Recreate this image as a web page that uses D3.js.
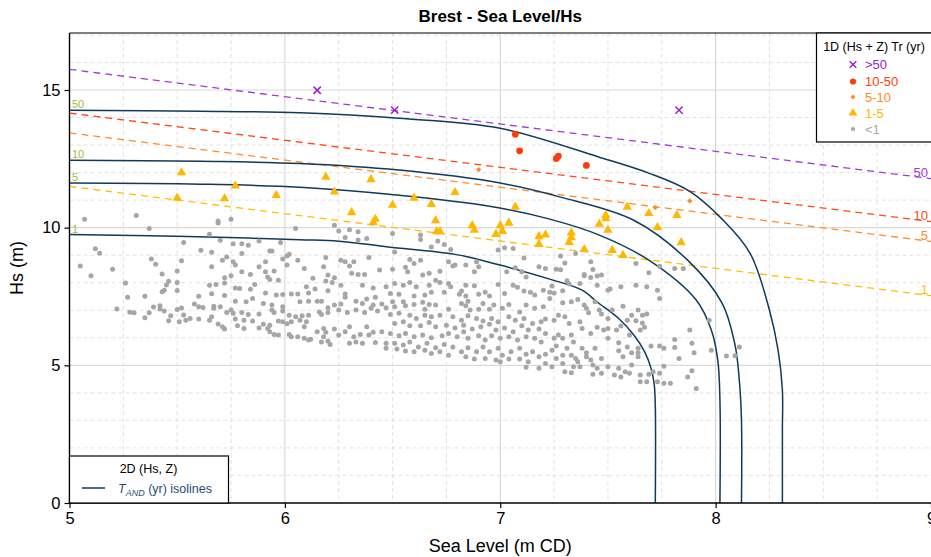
<!DOCTYPE html>
<html>
<head>
<meta charset="utf-8">
<script src="https://cdn.jsdelivr.net/npm/d3@7"></script>
<style>
  body { margin: 0; background: #fff; }
  svg { display: block; font-family: "Liberation Sans", Arial, sans-serif; }
</style>
</head>
<body>
<svg id="chart" width="931" height="557"></svg>
<script>
// ---- axes ----
const xTicks = [5, 6, 7, 8, 9];
const yTicks = [0, 5, 10, 15];
const xMinor = d3.range(5, 9.001, 0.25);
const yMinor = d3.range(0, 17.5, 1);

// ---- 2D joint return period isolines, T_AND (yr): [sea level, Hs] ----
const isoPeriods = ["1", "5", "10", "50"];
const iso1 = [[5.00,9.75],[5.37,9.71],[5.74,9.64],[6.07,9.56],[6.25,9.51],[6.48,9.30],[6.79,9.03],[6.99,8.66],[7.23,8.13],[7.38,7.73],[7.45,7.30],[7.55,6.70],[7.62,6.10],[7.67,5.50],[7.70,4.90],[7.715,4.30],[7.72,3.50],[7.72,0]];
const iso5 = [[5.00,11.62],[5.61,11.58],[6.07,11.47],[6.53,11.18],[6.95,10.78],[7.23,10.31],[7.46,9.73],[7.69,8.82],[7.91,7.37],[7.98,6.28],[8.01,5.19],[8.02,3.74],[8.02,0]];
const iso10 = [[5.00,12.45],[5.61,12.41],[6.07,12.33],[6.53,12.09],[7.00,11.62],[7.28,11.11],[7.62,10.27],[7.87,8.82],[8.03,7.26],[8.09,5.74],[8.11,4.46],[8.12,3.01],[8.12,0]];
const iso50 = [[5.00,14.26],[5.61,14.23],[6.07,14.17],[6.53,13.97],[7.00,13.61],[7.46,12.56],[7.69,11.98],[7.88,11.32],[8.03,10.31],[8.16,9.07],[8.25,7.00],[8.29,5.55],[8.31,4.10],[8.31,2.65],[8.31,0]];
const isolines = [iso1, iso5, iso10, iso50];

// ---- 1D (Hs + Z) return levels: [sea level, Hs] at both ends ----
const levelPeriods = ["50", "10", "5", "1"];
const level50 = [[5, 15.75], [9, 11.78]];
const level10 = [[5, 14.16], [9, 10.22]];
const level5  = [[5, 13.44], [9, 9.50]];
const level1  = [[5, 11.50], [9, 7.53]];
const levels = [level50, level10, level5, level1];
const levelColors = ["#a23ad6", "#ff4a12", "#ff8c26", "#ffbf00"];

// ---- observed events by 1D return period ----
const over50 = [[6.15,14.99],[6.51,14.27],[7.83,14.27]];
const tr10to50 = [[7.07,13.39],[7.09,12.79],[7.26,12.51],[7.27,12.60],[7.40,12.26]];
const tr5to10 = [[6.90,12.11],[7.72,10.73],[7.88,10.97]];
const tr1to5 = [[5.52,12.00],[5.50,11.08],[5.72,11.06],[5.77,11.52],[5.96,11.18],[6.19,11.84],[6.23,11.30],[6.31,10.55],[6.40,11.75],[6.41,10.19],[6.42,10.31],[6.50,10.82],[6.60,11.08],[6.68,10.85],[6.70,10.26],[6.705,9.86],[6.72,9.86],[6.79,11.28],[6.87,10.08],[6.88,9.91],[6.98,9.76],[7.00,10.08],[7.01,9.87],[7.04,10.17],[7.07,10.75],[7.18,9.68],[7.21,9.74],[7.18,9.40],[7.33,9.81],[7.33,9.64],[7.32,9.47],[7.39,9.21],[7.46,10.13],[7.49,10.33],[7.49,10.45],[7.50,9.91],[7.52,9.18],[7.57,9.00],[7.59,10.75],[7.69,10.52],[7.73,10.01],[7.82,10.45],[7.84,9.46]];
const under1 = [
[5.07,10.31],[5.31,10.44],[5.37,9.97],[5.69,10.24],[5.69,10.17],[5.65,9.76],[5.70,9.54],[5.53,9.46],[5.12,9.23],[5.14,9.07],[5.61,9.18],[5.66,9.11],[5.38,8.86],[5.40,8.67],[5.52,8.80],[5.71,8.82],[5.73,8.93],[5.05,8.61],[5.20,8.49],[5.66,8.58],[5.10,8.25],[5.43,8.32],[5.50,8.43],[5.72,8.18],[5.26,7.99],[5.46,8.05],[5.45,7.92],[5.50,8.01],[5.68,7.94],[5.65,7.91],[5.72,7.99],[5.44,7.73],[5.43,7.67],[5.50,7.72],[5.66,7.60],[5.27,7.47],[5.35,7.51],[5.60,7.51],[5.72,7.54],[5.22,7.05],[5.39,7.12],[5.42,7.16],[5.42,7.05],[5.58,7.23],[5.60,7.13],[5.62,7.10],[5.67,7.15],[5.70,7.13],[5.67,7.07],[5.50,7.03],[5.52,7.08],[5.28,6.93],[5.30,6.91],[5.37,6.91],[5.44,6.97],[5.73,6.92],[5.47,6.80],[5.53,6.83],[5.35,6.73],[5.46,6.62],[5.51,6.58],[5.54,6.64],[5.56,6.70],[5.60,6.68],[5.65,6.64],[5.66,6.76],[5.69,6.50],[5.71,6.40],[5.72,6.32],
[5.75,10.31],[6.05,9.97],[6.23,10.09],[6.25,9.88],[6.30,9.92],[6.34,9.85],[6.28,9.64],[6.34,9.55],[6.38,9.61],[5.76,9.42],[5.80,9.42],[5.83,9.36],[5.88,9.52],[5.98,9.46],[6.39,8.92],[5.80,9.06],[5.93,9.15],[5.94,9.15],[6.02,9.03],[6.01,8.97],[5.99,8.86],[6.06,8.82],[6.01,8.64],[6.19,8.92],[6.26,8.82],[6.28,8.76],[6.32,8.76],[6.30,8.61],[5.76,8.76],[5.77,8.64],[5.75,8.25],[5.88,8.58],[5.91,8.76],[5.95,8.43],[5.91,8.40],[5.80,8.40],[5.84,8.30],[6.09,8.52],[6.18,8.58],[6.20,8.28],[6.23,8.18],[6.31,8.34],[6.34,8.30],[6.37,8.30],[6.44,8.46],[5.92,8.21],[5.93,8.12],[5.97,8.09],[6.13,8.16],[6.19,8.06],[6.22,8.01],[6.26,7.91],[5.79,7.79],[5.86,7.94],[5.84,7.76],[5.77,7.81],[6.10,7.85],[6.14,7.77],[6.20,7.71],[6.36,7.91],[6.41,7.81],[6.47,7.85],[5.91,7.63],[5.96,7.55],[5.99,7.57],[6.03,7.59],[6.06,7.59],[6.11,7.63],[6.28,7.59],[6.28,7.47],[6.33,7.33],[6.38,7.41],[6.42,7.47],[5.77,7.33],[5.82,7.31],[5.85,7.43],[5.90,7.25],[5.94,7.19],[5.99,7.13],[6.07,7.31],[6.11,7.33],[6.15,7.33],[6.17,7.33],[6.20,7.09],[6.23,7.19],[6.26,7.23],[6.36,7.25],[6.41,7.19],[6.45,7.23],[5.75,7.01],[5.76,6.89],[5.80,6.92],[5.83,6.85],[5.88,6.86],[5.94,7.01],[5.95,6.92],[5.99,6.97],[6.02,6.82],[6.05,6.76],[6.08,6.80],[6.11,6.82],[6.16,6.94],[6.17,6.85],[6.20,6.92],[6.25,7.01],[6.29,6.92],[6.33,7.01],[6.37,6.92],[6.40,7.07],[6.43,6.97],[6.47,7.09],[5.77,6.68],[5.81,6.64],[5.85,6.61],[5.90,6.49],[5.93,6.46],[5.97,6.61],[5.99,6.58],[6.01,6.51],[6.03,6.58],[6.07,6.64],[6.10,6.58],[6.09,6.40],[5.78,6.44],[5.81,6.34],[5.88,6.36],[5.92,6.34],[5.93,6.22],[5.95,6.12],[5.97,6.10],[6.02,6.12],[6.03,6.04],[6.06,6.04],[6.09,5.98],[6.12,5.95],[6.15,6.22],[6.18,6.34],[6.19,6.20],[6.18,6.04],[6.20,5.88],[6.23,6.32],[6.25,6.10],[6.28,6.22],[6.30,6.40],[6.32,6.04],[6.33,5.85],[6.35,6.12],[6.38,6.40],[6.39,6.10],[6.41,6.20],[6.42,5.83],[6.45,6.22],[6.47,5.80],[6.47,5.62],[6.36,5.80],[6.30,5.80],[6.21,5.76],[6.17,5.85],[6.11,5.92],
[6.50,9.79],[6.63,9.73],[6.63,9.57],[6.68,9.30],[6.71,9.52],[6.74,9.39],[6.77,9.21],[6.99,9.19],[7.02,9.27],[7.06,9.24],[7.11,8.90],[7.18,8.58],[6.51,9.12],[6.58,8.84],[6.60,8.70],[6.63,8.82],[6.56,8.56],[6.50,8.49],[6.57,8.40],[6.64,8.28],[6.67,8.34],[6.72,8.42],[6.76,8.76],[6.78,8.61],[6.79,8.64],[6.84,8.64],[6.89,8.76],[6.88,8.40],[6.90,8.58],[7.03,8.40],[7.07,8.54],[7.10,8.40],[7.12,8.21],[7.21,8.52],[6.51,7.97],[6.55,7.91],[6.58,8.01],[6.61,7.85],[6.67,7.91],[6.70,8.09],[6.72,8.01],[6.76,7.97],[6.77,7.85],[6.84,7.91],[6.88,7.89],[6.99,7.94],[7.06,7.91],[7.08,7.84],[7.20,7.73],[7.23,7.65],[6.49,7.61],[6.53,7.58],[6.55,7.31],[6.60,7.52],[6.65,7.55],[6.68,7.65],[6.74,7.65],[6.81,7.58],[6.82,7.70],[6.84,7.52],[6.90,7.58],[6.93,7.65],[6.95,7.52],[7.02,7.61],[7.11,7.70],[7.14,7.65],[7.16,7.55],[6.50,7.31],[6.51,7.13],[6.56,7.16],[6.60,7.21],[6.64,7.29],[6.67,7.21],[6.65,7.04],[6.70,7.19],[6.76,7.04],[6.82,7.25],[6.84,7.16],[6.85,7.33],[6.86,7.01],[6.90,7.04],[6.92,7.25],[6.95,7.04],[6.97,7.19],[7.01,7.07],[7.04,7.21],[7.09,6.94],[7.12,7.19],[7.16,7.07],[7.20,7.13],[6.49,6.85],[6.53,6.89],[6.58,6.82],[6.61,6.70],[6.65,6.82],[6.68,6.76],[6.72,6.82],[6.78,6.76],[6.82,6.64],[6.85,6.80],[6.89,6.70],[6.92,6.61],[6.96,6.70],[6.99,6.58],[7.04,6.76],[7.07,6.64],[7.11,6.70],[7.15,6.52],[7.19,6.58],[7.21,6.68],[6.51,6.52],[6.55,6.58],[6.58,6.44],[6.63,6.44],[6.67,6.56],[6.70,6.40],[6.75,6.46],[6.79,6.36],[6.83,6.46],[6.87,6.32],[6.91,6.40],[6.95,6.49],[6.98,6.28],[7.02,6.36],[7.06,6.22],[7.10,6.44],[7.13,6.28],[7.18,6.32],[7.21,6.16],[6.49,6.16],[6.53,6.07],[6.56,6.16],[6.60,6.04],[6.64,6.10],[6.68,6.00],[6.73,6.07],[6.76,6.16],[6.80,6.04],[6.83,6.22],[6.85,5.98],[6.90,6.07],[6.93,5.92],[6.96,6.07],[7.00,5.98],[7.04,6.04],[7.08,5.92],[7.12,6.04],[7.16,5.98],[7.19,5.85],[6.51,5.80],[6.55,5.74],[6.58,5.85],[6.62,5.67],[6.66,5.80],[6.70,5.64],[6.74,5.76],[6.78,5.67],[6.82,5.49],[6.85,5.64],[6.89,5.49],[6.92,5.67],[6.95,5.49],[6.99,5.62],[7.01,5.37],[7.05,5.49],[7.09,5.62],[7.12,5.40],[7.15,5.49],[7.18,5.31],[7.21,5.40],[6.52,5.59],[6.56,5.52],[6.60,5.49],[6.65,5.55],[6.68,5.43],[6.72,5.49],[6.76,5.37],[6.84,5.31],[6.88,5.23],[6.93,5.25],[6.98,5.19],[7.00,5.13],[7.04,5.23],[7.09,5.23],[7.13,5.13],[7.12,4.93],[7.18,4.89],[7.21,5.07],
[7.28,8.97],[7.35,9.06],[7.30,8.72],[7.42,8.76],[7.26,8.49],[7.28,8.47],[7.43,8.48],[7.63,8.70],[7.69,8.36],[7.74,8.60],[7.81,8.52],[7.85,8.52],[7.39,8.25],[7.39,8.30],[7.42,8.19],[7.47,8.28],[7.45,8.24],[7.31,8.07],[7.32,7.95],[7.37,7.97],[7.45,7.91],[7.50,7.73],[7.51,7.77],[7.56,7.85],[7.63,7.91],[7.68,7.85],[7.73,7.73],[7.24,7.88],[7.25,7.63],[7.29,7.71],[7.23,7.43],[7.29,7.27],[7.33,7.31],[7.36,7.39],[7.39,7.19],[7.40,7.07],[7.41,6.91],[7.44,7.31],[7.46,7.01],[7.47,6.86],[7.52,7.01],[7.50,6.70],[7.57,7.15],[7.61,6.82],[7.64,7.01],[7.66,6.82],[7.68,6.86],[7.59,6.64],[7.63,6.62],[7.66,6.54],[7.67,6.38],[7.65,6.28],[7.74,7.43],[7.97,6.64],[7.88,6.28],[7.27,6.82],[7.25,6.64],[7.30,6.76],[7.32,6.52],[7.37,6.58],[7.38,6.34],[7.42,6.16],[7.45,6.38],[7.48,6.28],[7.50,6.34],[7.50,5.98],[7.54,6.28],[7.56,6.43],[7.60,6.10],[7.27,6.10],[7.25,5.98],[7.29,5.98],[7.33,6.10],[7.34,5.85],[7.26,5.70],[7.24,5.55],[7.31,5.62],[7.38,5.62],[7.40,5.46],[7.44,5.62],[7.40,5.31],[7.42,5.19],[7.47,5.25],[7.55,5.82],[7.59,5.67],[7.55,5.53],[7.57,5.31],[7.61,5.46],[7.64,5.62],[7.64,5.46],[7.64,5.31],[7.70,5.70],[7.74,5.70],[7.76,5.62],[7.81,5.65],[7.89,5.80],[7.81,5.94],[7.83,5.25],[7.90,5.46],[8.05,5.34],[7.26,5.25],[7.29,5.37],[7.29,5.07],[7.33,5.37],[7.35,5.25],[7.34,4.95],[7.36,5.13],[7.37,4.95],[7.43,5.01],[7.43,4.68],[7.45,4.89],[7.47,4.71],[7.50,4.95],[7.53,4.65],[7.55,4.89],[7.56,4.58],[7.58,4.77],[7.61,5.01],[7.60,4.71],[7.65,4.65],[7.65,4.40],[7.68,4.40],[7.69,4.68],[7.71,4.77],[7.74,4.71],[7.76,4.97],[7.73,4.40],[7.76,4.35],[7.79,4.35],[7.87,4.58],[7.89,4.80],[7.91,4.16],[7.24,4.95],[7.30,4.77],[7.33,4.73],
[7.98,5.55],[8.11,5.67],[8.09,5.35]
];

// ---- legend entries ----
const legendLabels = [">50", "10-50", "5-10", "1-5", "<1"];
const legendColors = ["#9a22d0", "#ff3d0a", "#ff8a1f", "#ffb700", "#a6a6a6"];

// ---- layout ----
const svg = d3.select("#chart");
const pLeft = 69.5, pRight = 931, pTop = 33, pBottom = 503;
const x = d3.scaleLinear().domain([5, 9]).range([pLeft, pRight]);
const y = d3.scaleLinear().domain([0, 17.07]).range([pBottom, pTop]);
const navy = "#0e3b5b";

svg.append("defs").append("clipPath").attr("id", "plot")
  .append("rect").attr("x", pLeft).attr("y", pTop).attr("width", pRight - pLeft).attr("height", pBottom - pTop);

// grid
const grid = svg.append("g");
grid.selectAll(".vx").data(xMinor.filter(v => Math.abs(v - Math.round(v)) > 1e-6)).join("line")
  .attr("x1", d => x(d)).attr("x2", d => x(d)).attr("y1", pTop).attr("y2", pBottom)
  .attr("stroke", "#e2e2e2").attr("stroke-dasharray", "4,3");
grid.selectAll(".hy").data(yMinor.filter(v => v % 5 !== 0)).join("line")
  .attr("x1", pLeft).attr("x2", pRight).attr("y1", d => y(d)).attr("y2", d => y(d))
  .attr("stroke", "#e2e2e2").attr("stroke-dasharray", "4,3");
grid.selectAll(".mx").data(xTicks.slice(1, -1)).join("line")
  .attr("x1", d => x(d)).attr("x2", d => x(d)).attr("y1", pTop).attr("y2", pBottom)
  .attr("stroke", "#d9d9d9").attr("stroke-width", 1.2);
grid.selectAll(".my").data(yTicks.slice(1)).join("line")
  .attr("x1", pLeft).attr("x2", pRight).attr("y1", d => y(d)).attr("y2", d => y(d))
  .attr("stroke", "#d9d9d9").attr("stroke-width", 1.2);

const plot = svg.append("g").attr("clip-path", "url(#plot)");

// 1D return level lines
const straight = d3.line().x(d => x(d[0])).y(d => y(d[1]));
plot.selectAll(".lvl").data(levels).join("path")
  .attr("d", straight).attr("fill", "none")
  .attr("stroke", (d, i) => levelColors[i]).attr("stroke-width", 1.3)
  .attr("stroke-dasharray", "7,5");

// isolines
const curve = d3.line().x(d => x(d[0])).y(d => y(d[1])).curve(d3.curveCatmullRom.alpha(0.5));
plot.selectAll(".iso").data(isolines).join("path")
  .attr("d", curve).attr("fill", "none").attr("stroke", navy).attr("stroke-width", 1.5);

// events
plot.selectAll(".p1").data(under1).join("circle")
  .attr("cx", d => x(d[0])).attr("cy", d => y(d[1])).attr("r", 2.5).attr("fill", legendColors[4]);
const tri = d3.symbol().type(d3.symbolTriangle).size(38);
plot.selectAll(".p5").data(tr1to5).join("path")
  .attr("d", tri).attr("transform", d => `translate(${x(d[0])},${y(d[1])})`).attr("fill", legendColors[3]);
const dia = d3.symbol().type(d3.symbolSquare).size(14);
plot.selectAll(".p10").data(tr5to10).join("path")
  .attr("d", dia).attr("transform", d => `translate(${x(d[0])},${y(d[1])}) rotate(45)`).attr("fill", legendColors[2]);
plot.selectAll(".p50").data(tr10to50).join("circle")
  .attr("cx", d => x(d[0])).attr("cy", d => y(d[1])).attr("r", 3.4).attr("fill", legendColors[1]);
const cross = d3.symbol().type(d3.symbolTimes).size(36);
plot.selectAll(".px").data(over50).join("path")
  .attr("d", cross).attr("transform", d => `translate(${x(d[0])},${y(d[1])})`)
  .attr("fill", "none").attr("stroke", legendColors[0]).attr("stroke-width", 1.5);

// isoline labels (left end)
svg.selectAll(".isoLab").data(isolines).join("text")
  .attr("x", d => x(d[0][0]) + 2.5).attr("y", d => y(d[0][1]) - 2)
  .attr("font-size", 11).attr("fill", "#9dbd3a")
  .text((d, i) => isoPeriods[i]);

// return level labels (right end)
svg.selectAll(".lvlLab").data(levels).join("text")
  .attr("x", d => x(d[1][0]) - 3).attr("y", d => y(d[1][1]) - 1.5)
  .attr("text-anchor", "end").attr("font-size", 13)
  .attr("fill", (d, i) => levelColors[i])
  .text((d, i) => levelPeriods[i]);

// axes
const xAxis = svg.append("g").attr("transform", `translate(0,${pBottom})`)
  .call(d3.axisBottom(x).tickValues(xTicks).tickSize(5).tickPadding(4).tickFormat(d3.format("d")));
const yAxis = svg.append("g").attr("transform", `translate(${pLeft},0)`)
  .call(d3.axisLeft(y).tickValues(yTicks).tickSize(5).tickPadding(4).tickFormat(d3.format("d")));
[xAxis, yAxis].forEach(a => {
  a.select(".domain").remove();
  a.selectAll(".tick line").attr("stroke", "#000").attr("stroke-width", 1.2);
  a.selectAll(".tick text").attr("font-size", 16.5).attr("fill", "#000")
    .attr("font-family", "'Liberation Sans', Arial, sans-serif");
});

// frame
svg.append("line").attr("x1", pLeft).attr("x2", pRight + 2).attr("y1", pBottom).attr("y2", pBottom)
  .attr("stroke", "#000").attr("stroke-width", 1.4);
svg.append("line").attr("x1", pLeft).attr("x2", pLeft).attr("y1", pTop).attr("y2", pBottom)
  .attr("stroke", "#000").attr("stroke-width", 1.4);
svg.append("line").attr("x1", pLeft).attr("x2", pRight + 2).attr("y1", pTop).attr("y2", pTop)
  .attr("stroke", "#000").attr("stroke-width", 1.2);

// titles
svg.append("text").attr("x", (pLeft + pRight) / 2).attr("y", 22)
  .attr("text-anchor", "middle").attr("font-size", 17).attr("font-weight", "bold")
  .text("Brest - Sea Level/Hs");
svg.append("text").attr("x", (pLeft + pRight) / 2).attr("y", 552)
  .attr("text-anchor", "middle").attr("font-size", 18).text("Sea Level (m CD)");
svg.append("text").attr("transform", `translate(23,${(pTop + pBottom) / 2}) rotate(-90)`)
  .attr("text-anchor", "middle").attr("font-size", 18).text("Hs (m)");

// 1D legend (top right)
const lg = svg.append("g");
lg.append("rect").attr("x", 816.5).attr("y", pTop).attr("width", 130).attr("height", 109)
  .attr("fill", "#fff").attr("stroke", "#000").attr("stroke-width", 1.2);
lg.append("text").attr("x", 874).attr("y", 51).attr("text-anchor", "middle")
  .attr("font-size", 12.5).text("1D (Hs + Z) Tr (yr)");
const rowsY = [64.5, 81.5, 97, 113, 129];
const shapes = [d3.symbolTimes, d3.symbolCircle, d3.symbolSquare, d3.symbolTriangle, d3.symbolCircle];
const sizes = [30, 30, 12, 34, 14];
legendLabels.forEach((lab, i) => {
  const s = lg.append("path").attr("d", d3.symbol().type(shapes[i]).size(sizes[i])())
    .attr("transform", `translate(853,${rowsY[i]})` + (i === 2 ? " rotate(45)" : ""));
  if (i === 0) s.attr("fill", "none").attr("stroke", legendColors[i]).attr("stroke-width", 1.5);
  else s.attr("fill", legendColors[i]);
  lg.append("text").attr("x", 865).attr("y", rowsY[i] + 4.5).attr("font-size", 13)
    .attr("fill", legendColors[i]).text(lab);
});

// 2D legend (bottom left)
const lg2 = svg.append("g");
lg2.append("rect").attr("x", pLeft).attr("y", 456).attr("width", 228.5 - pLeft).attr("height", pBottom - 456)
  .attr("fill", "#fff").attr("stroke", "#000").attr("stroke-width", 1.2);
lg2.append("text").attr("x", 148.5).attr("y", 472.5).attr("text-anchor", "middle")
  .attr("font-size", 12.5).text("2D (Hs, Z)");
lg2.append("line").attr("x1", 82).attr("x2", 105).attr("y1", 488).attr("y2", 488)
  .attr("stroke", navy).attr("stroke-width", 1.5);
const t2 = lg2.append("text").attr("x", 118).attr("y", 492.5).attr("font-size", 12.5).attr("fill", "#1f4d73");
t2.append("tspan").attr("font-style", "italic").text("T");
t2.append("tspan").attr("font-style", "italic").attr("font-size", 9).attr("dy", 3).text("AND");
t2.append("tspan").attr("dy", -3).text(" (yr) isolines");
</script>
</body>
</html>
